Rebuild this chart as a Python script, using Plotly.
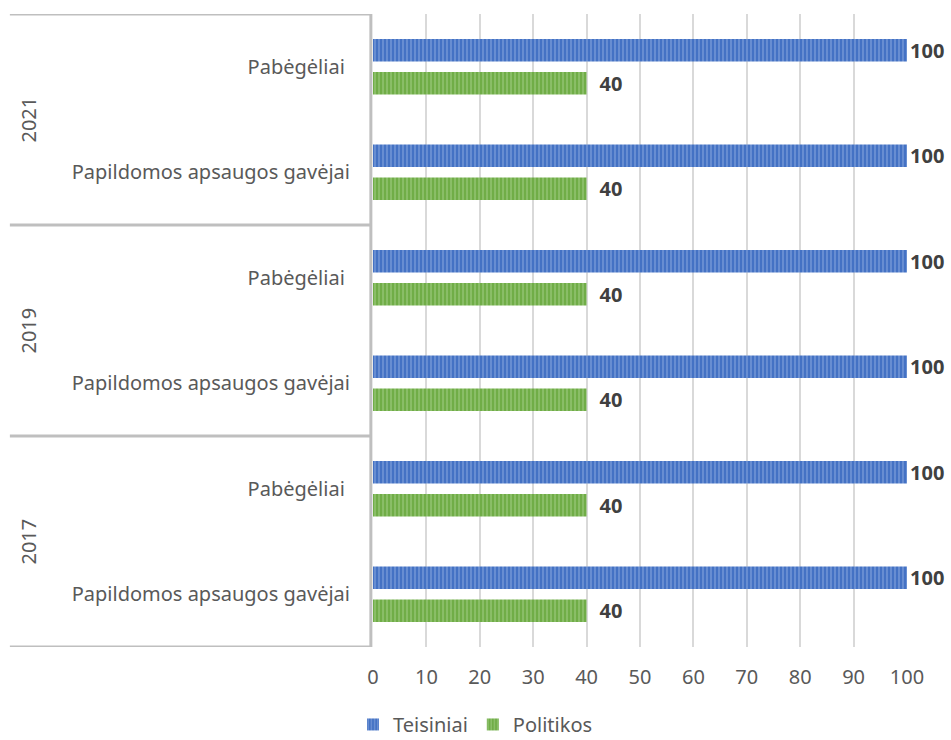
import plotly.graph_objects as go

years = ["2017", "2017", "2019", "2019", "2021", "2021"]
groups = ["Papildomos apsaugos gavėjai", "Pabėgėliai ", "Papildomos apsaugos gavėjai", "Pabėgėliai ",
          "Papildomos apsaugos gavėjai", "Pabėgėliai "]
teisiniai = [100, 100, 100, 100, 100, 100]
politikos = [40, 40, 40, 40, 40, 40]
year_labels = ["2017", "2019", "2021"]
x_ticks = [0, 10, 20, 30, 40, 50, 60, 70, 80, 90, 100]

cat_ids = [f"{y}|{g}" for y, g in zip(years, groups)]

FONT = "Noto Sans"
GRAY_TXT = "#595959"
LBL_FONT = dict(family=FONT, size=20, color="#404040", weight="bold")

fig = go.Figure()
fig.add_trace(go.Bar(
    name="Politikos", y=cat_ids, x=politikos, orientation="h",
    marker=dict(color="#70AD47", line=dict(width=0),
                pattern=dict(shape="|", fgcolor="#B9DBA3", bgcolor="#70AD47", size=4, solidity=0.35, fillmode="overlay")),
    text=[str(v) for v in politikos], texttemplate="\u2002%{text}", textposition="outside", cliponaxis=False,
    constraintext="none", textfont=LBL_FONT,
))
fig.add_trace(go.Bar(
    name="Teisiniai", y=cat_ids, x=teisiniai, orientation="h",
    marker=dict(color="#4472C4", line=dict(width=0),
                pattern=dict(shape="|", fgcolor="#A9C0EA", bgcolor="#4472C4", size=4, solidity=0.35, fillmode="overlay")),
    text=[str(v) for v in teisiniai], textposition="outside", cliponaxis=False,
    constraintext="none", textfont=LBL_FONT,
))

shapes = []
for yv in [-0.5, 1.5, 3.5, 5.5]:
    shapes.append(dict(type="line", xref="paper", yref="y", x0=-0.68, x1=-0.004, y0=yv, y1=yv,
                       line=dict(color="#BFBFBF", width=3), layer="above"))
shapes.append(dict(type="line", xref="paper", yref="y", x0=-0.004, x1=-0.004, y0=-0.5, y1=5.5,
                   line=dict(color="#BFBFBF", width=3), layer="above"))

annotations = []
for i, yl in enumerate(year_labels):
    annotations.append(dict(text=yl, xref="paper", yref="y", x=-0.646, y=2 * i + 0.5,
                            xanchor="center", yanchor="middle",
                            textangle=-90, showarrow=False,
                            font=dict(family=FONT, size=20, color=GRAY_TXT)))

fig.update_layout(
    width=951, height=740,
    margin=dict(l=373, r=44, t=14, b=93),
    paper_bgcolor="white", plot_bgcolor="white",
    barmode="group", bargap=0.374, bargroupgap=0.32,
    font=dict(family=FONT, color=GRAY_TXT),
    showlegend=True,
    legend=dict(orientation="h", traceorder="reversed", xref="container", yref="container",
                x=0.5, xanchor="center", y=0.021, yanchor="middle", itemwidth=30,
                font=dict(family=FONT, size=20, color=GRAY_TXT)),
    shapes=shapes, annotations=annotations,
    xaxis=dict(range=[0, 100], tickvals=x_ticks, showgrid=True, gridcolor="#D9D9D9", gridwidth=1.5,
               zeroline=False, showline=False, ticklabelstandoff=16,
               tickfont=dict(family=FONT, size=20, color=GRAY_TXT)),
    yaxis=dict(type="category", categoryorder="array", categoryarray=cat_ids,
               tickvals=cat_ids, ticktext=groups, range=[-0.5, 5.5],
               showgrid=False, zeroline=False, showline=False, ticklabelstandoff=22,
               tickfont=dict(family=FONT, size=20, color=GRAY_TXT)),
)

fig.write_html("out.html", config={"displayModeBar": False},
               post_script="document.body.style.margin='0';")
